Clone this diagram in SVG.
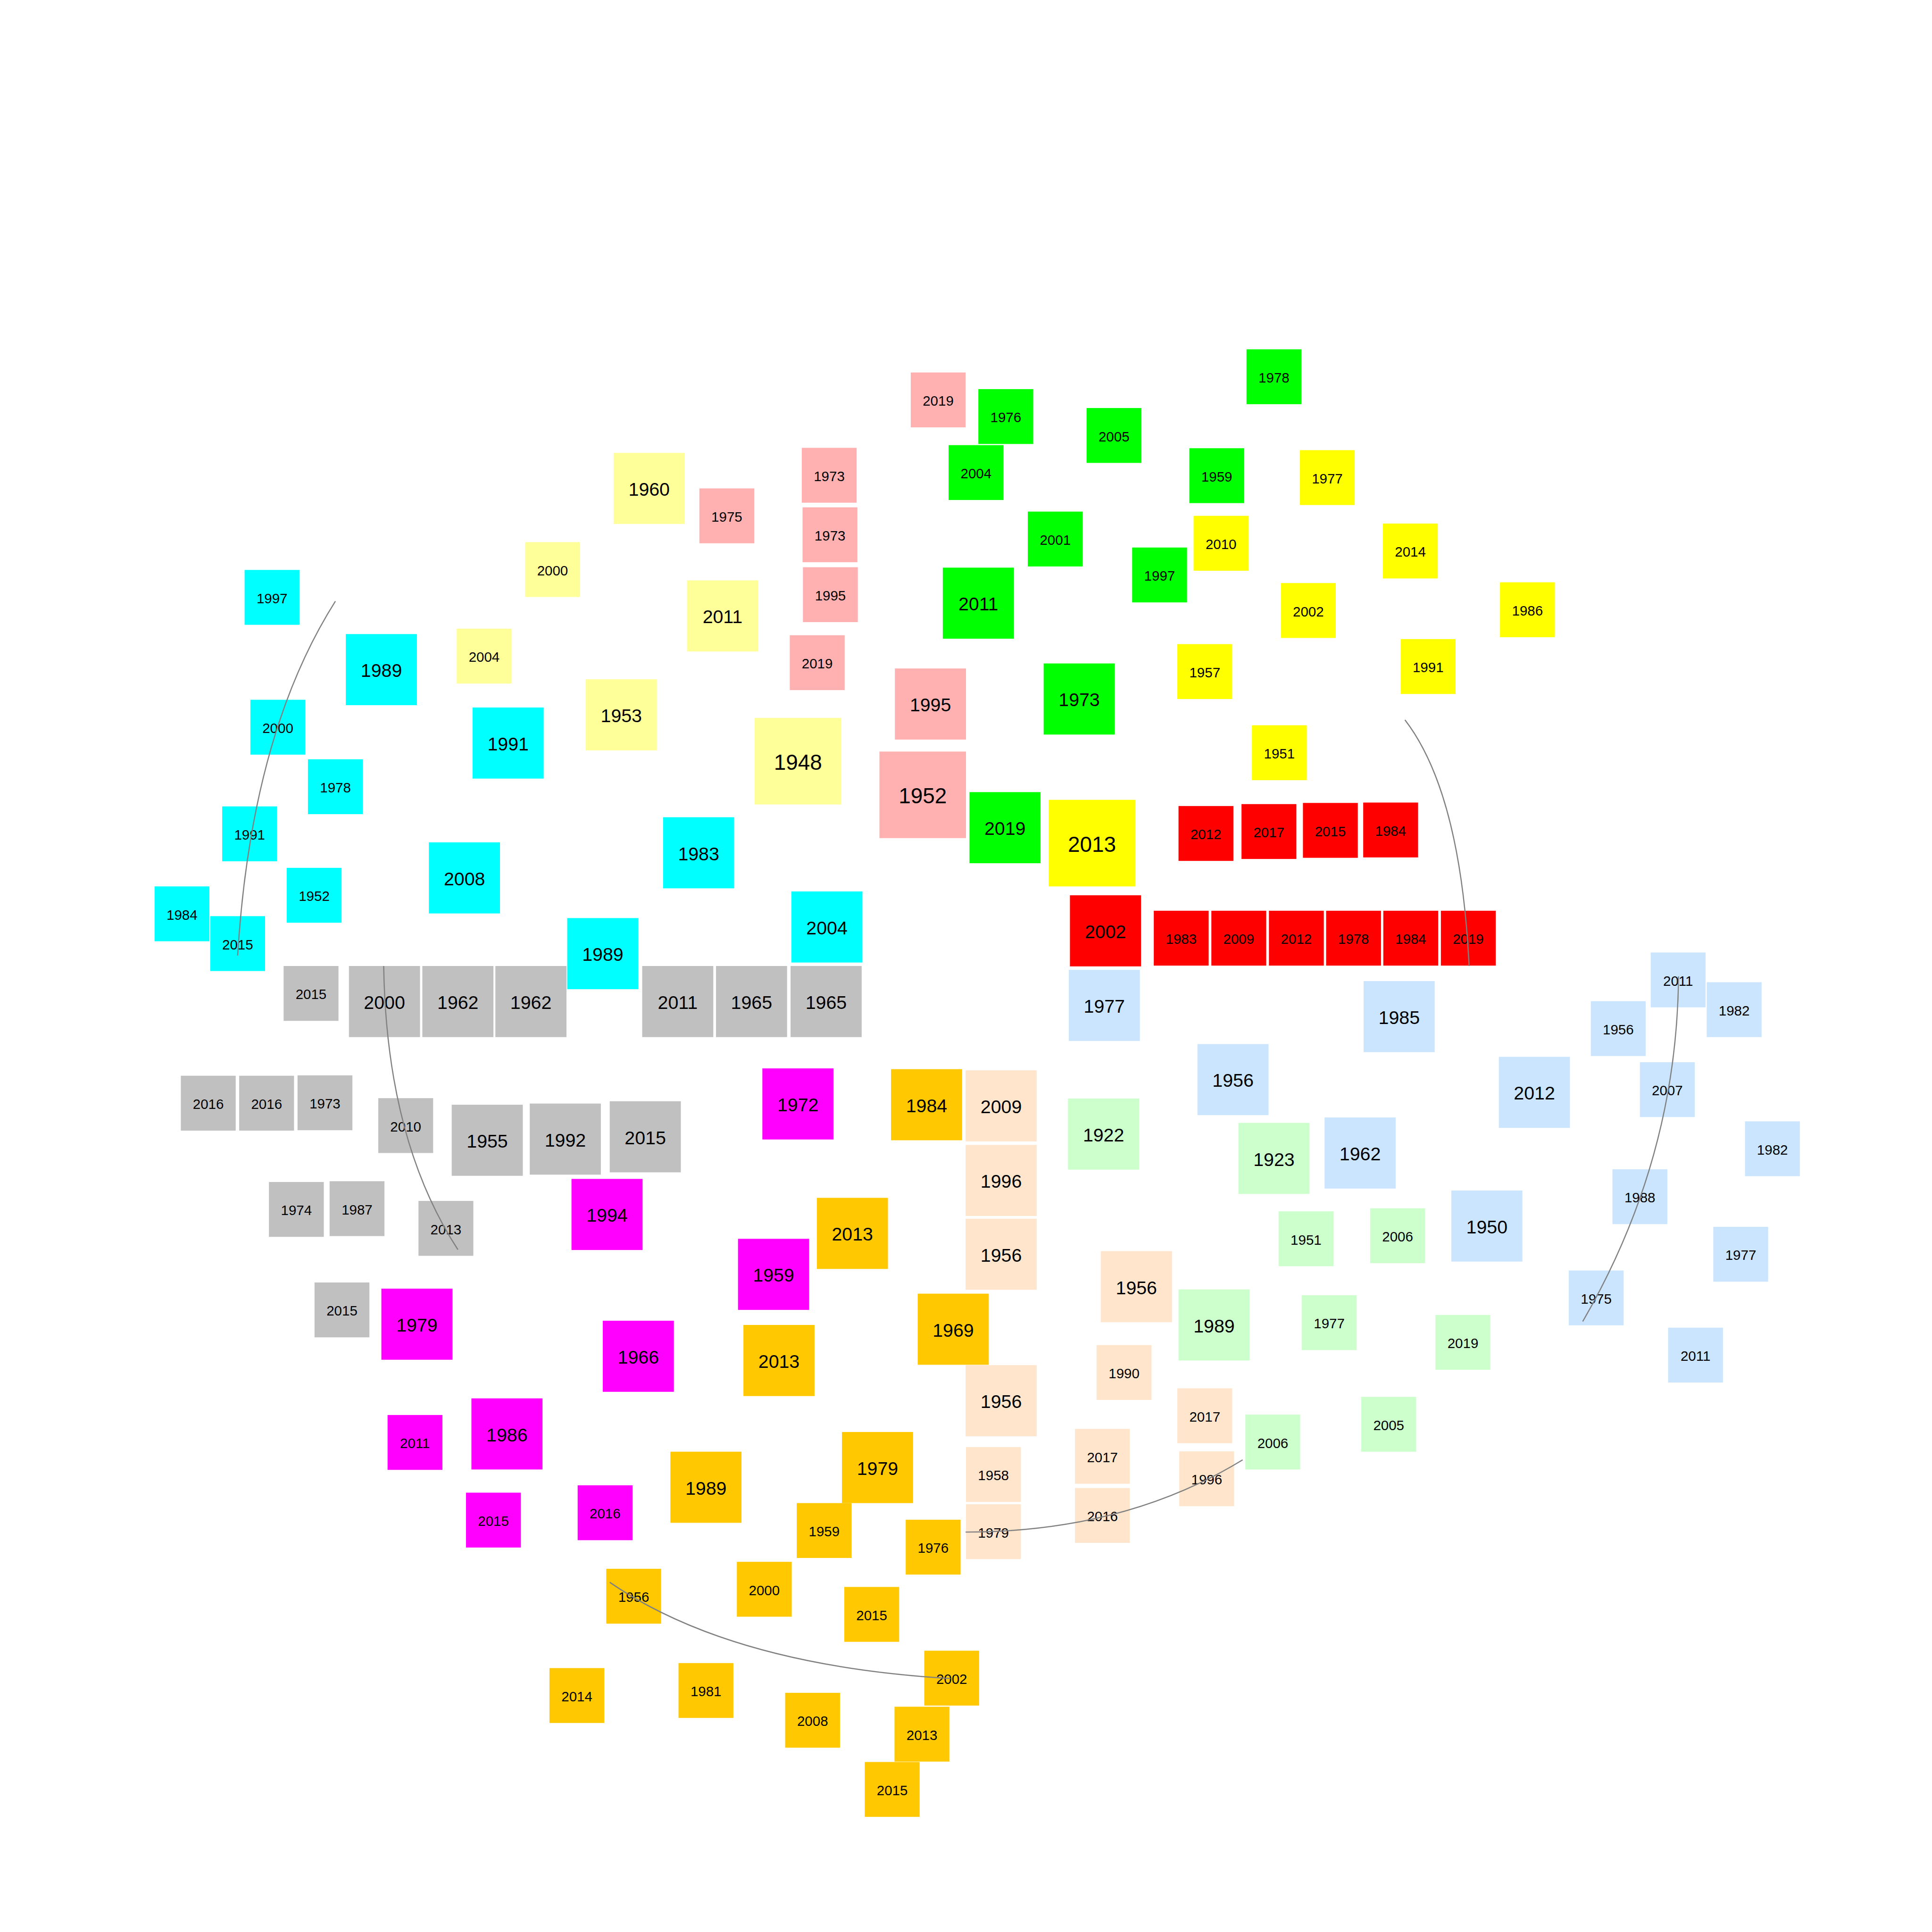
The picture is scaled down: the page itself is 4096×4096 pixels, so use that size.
<svg xmlns="http://www.w3.org/2000/svg" width="4096" height="4096" viewBox="0 0 4096 4096">
<style>
text{font-family:"Liberation Sans",Arial,sans-serif;text-anchor:middle;fill:#000}
.s text{font-size:36px}.m text{font-size:48px}.l text{font-size:56px}
.cy rect{fill:#00ffff}.ly rect{fill:#ffff99}.pk rect{fill:#ffb0b0}.gr rect{fill:#00ff00}
.ye rect{fill:#ffff00}.rd rect{fill:#ff0000}.gy rect{fill:#c0c0c0}.mg rect{fill:#ff00ff}
.or rect{fill:#ffc800}.pc rect{fill:#ffe5cc}.lb rect{fill:#cce5ff}.lg rect{fill:#ccffcc}
.edge{fill:none;stroke:#808080;stroke-width:3}
</style>
<rect width="4096" height="4096" fill="#ffffff"/>
<g transform="scale(0.8192)">
<g id="nodes">
<g id="n1" class="cy s"><rect x="633" y="1475" width="142" height="142"/><text x="704" y="1561">1997</text></g>
<g id="n2" class="cy m"><rect x="895" y="1641" width="184" height="184"/><text x="987" y="1752">1989</text></g>
<g id="n3" class="cy s"><rect x="648" y="1811" width="142" height="142"/><text x="719" y="1897">2000</text></g>
<g id="n4" class="cy m"><rect x="1223" y="1831" width="184" height="184"/><text x="1315" y="1942">1991</text></g>
<g id="n5" class="cy s"><rect x="797" y="1965" width="142" height="142"/><text x="868" y="2051">1978</text></g>
<g id="n6" class="cy s"><rect x="575" y="2087" width="142" height="142"/><text x="646" y="2173">1991</text></g>
<g id="n7" class="cy s"><rect x="742" y="2246" width="142" height="142"/><text x="813" y="2332">1952</text></g>
<g id="n8" class="cy m"><rect x="1110" y="2180" width="184" height="184"/><text x="1202" y="2291">2008</text></g>
<g id="n9" class="cy s"><rect x="400" y="2294" width="142" height="142"/><text x="471" y="2380">1984</text></g>
<g id="n10" class="cy s"><rect x="544" y="2371" width="142" height="142"/><text x="615" y="2457">2015</text></g>
<g id="n11" class="cy m"><rect x="1716" y="2115" width="184" height="184"/><text x="1808" y="2226">1983</text></g>
<g id="n12" class="cy m"><rect x="1468" y="2376" width="184" height="184"/><text x="1560" y="2487">1989</text></g>
<g id="n13" class="cy m"><rect x="2048" y="2307" width="184" height="184"/><text x="2140" y="2418">2004</text></g>
<g id="n14" class="ly s"><rect x="1182" y="1627" width="142" height="142"/><text x="1253" y="1713">2004</text></g>
<g id="n15" class="ly s"><rect x="1359" y="1403" width="142" height="142"/><text x="1430" y="1489">2000</text></g>
<g id="n16" class="ly m"><rect x="1588" y="1172" width="184" height="184"/><text x="1680" y="1283">1960</text></g>
<g id="n17" class="ly m"><rect x="1778" y="1502" width="184" height="184"/><text x="1870" y="1613">2011</text></g>
<g id="n18" class="ly m"><rect x="1516" y="1758" width="184" height="184"/><text x="1608" y="1869">1953</text></g>
<g id="n19" class="ly l"><rect x="1953" y="1858" width="224" height="224"/><text x="2065" y="1992">1948</text></g>
<g id="n20" class="pk s"><rect x="2357" y="964" width="142" height="142"/><text x="2428" y="1050">2019</text></g>
<g id="n21" class="pk s"><rect x="2075" y="1159" width="142" height="142"/><text x="2146" y="1245">1973</text></g>
<g id="n22" class="pk s"><rect x="2077" y="1313" width="142" height="142"/><text x="2148" y="1399">1973</text></g>
<g id="n23" class="pk s"><rect x="2078" y="1468" width="142" height="142"/><text x="2149" y="1554">1995</text></g>
<g id="n24" class="pk s"><rect x="2044" y="1644" width="142" height="142"/><text x="2115" y="1730">2019</text></g>
<g id="n25" class="pk s"><rect x="1810" y="1264" width="142" height="142"/><text x="1881" y="1350">1975</text></g>
<g id="n26" class="pk m"><rect x="2316" y="1730" width="184" height="184"/><text x="2408" y="1841">1995</text></g>
<g id="n27" class="pk l"><rect x="2276" y="1945" width="224" height="224"/><text x="2388" y="2079">1952</text></g>
<g id="n28" class="gr s"><rect x="2532" y="1007" width="142" height="142"/><text x="2603" y="1093">1976</text></g>
<g id="n29" class="gr s"><rect x="2455" y="1152" width="142" height="142"/><text x="2526" y="1238">2004</text></g>
<g id="n30" class="gr s"><rect x="2812" y="1056" width="142" height="142"/><text x="2883" y="1142">2005</text></g>
<g id="n31" class="gr s"><rect x="3226" y="904" width="142" height="142"/><text x="3297" y="990">1978</text></g>
<g id="n32" class="gr s"><rect x="3078" y="1160" width="142" height="142"/><text x="3149" y="1246">1959</text></g>
<g id="n33" class="gr s"><rect x="2660" y="1324" width="142" height="142"/><text x="2731" y="1410">2001</text></g>
<g id="n34" class="gr s"><rect x="2930" y="1417" width="142" height="142"/><text x="3001" y="1503">1997</text></g>
<g id="n35" class="gr m"><rect x="2440" y="1469" width="184" height="184"/><text x="2532" y="1580">2011</text></g>
<g id="n36" class="gr m"><rect x="2701" y="1717" width="184" height="184"/><text x="2793" y="1828">1973</text></g>
<g id="n37" class="gr m"><rect x="2509" y="2050" width="184" height="184"/><text x="2601" y="2161">2019</text></g>
<g id="n38" class="ye s"><rect x="3364" y="1165" width="142" height="142"/><text x="3435" y="1251">1977</text></g>
<g id="n39" class="ye s"><rect x="3089" y="1335" width="142" height="142"/><text x="3160" y="1421">2010</text></g>
<g id="n40" class="ye s"><rect x="3579" y="1355" width="142" height="142"/><text x="3650" y="1441">2014</text></g>
<g id="n41" class="ye s"><rect x="3315" y="1509" width="142" height="142"/><text x="3386" y="1595">2002</text></g>
<g id="n42" class="ye s"><rect x="3882" y="1507" width="142" height="142"/><text x="3953" y="1593">1986</text></g>
<g id="n43" class="ye s"><rect x="3047" y="1667" width="142" height="142"/><text x="3118" y="1753">1957</text></g>
<g id="n44" class="ye s"><rect x="3625" y="1654" width="142" height="142"/><text x="3696" y="1740">1991</text></g>
<g id="n45" class="ye s"><rect x="3240" y="1877" width="142" height="142"/><text x="3311" y="1963">1951</text></g>
<g id="n46" class="ye l"><rect x="2714" y="2070" width="224" height="224"/><text x="2826" y="2204">2013</text></g>
<g id="n47" class="rd s"><rect x="3050" y="2086" width="142" height="142"/><text x="3121" y="2172">2012</text></g>
<g id="n48" class="rd s"><rect x="3213" y="2081" width="142" height="142"/><text x="3284" y="2167">2017</text></g>
<g id="n49" class="rd s"><rect x="3372" y="2078" width="142" height="142"/><text x="3443" y="2164">2015</text></g>
<g id="n50" class="rd s"><rect x="3528" y="2077" width="142" height="142"/><text x="3599" y="2163">1984</text></g>
<g id="n51" class="rd m"><rect x="2769" y="2317" width="184" height="184"/><text x="2861" y="2428">2002</text></g>
<g id="n52" class="rd s"><rect x="2986" y="2357" width="142" height="142"/><text x="3057" y="2443">1983</text></g>
<g id="n53" class="rd s"><rect x="3135" y="2357" width="142" height="142"/><text x="3206" y="2443">2009</text></g>
<g id="n54" class="rd s"><rect x="3284" y="2357" width="142" height="142"/><text x="3355" y="2443">2012</text></g>
<g id="n55" class="rd s"><rect x="3432" y="2357" width="142" height="142"/><text x="3503" y="2443">1978</text></g>
<g id="n56" class="rd s"><rect x="3580" y="2357" width="142" height="142"/><text x="3651" y="2443">1984</text></g>
<g id="n57" class="rd s"><rect x="3729" y="2357" width="142" height="142"/><text x="3800" y="2443">2019</text></g>
<g id="n58" class="gy s"><rect x="734" y="2500" width="142" height="142"/><text x="805" y="2586">2015</text></g>
<g id="n59" class="gy m"><rect x="903" y="2500" width="184" height="184"/><text x="995" y="2611">2000</text></g>
<g id="n60" class="gy m"><rect x="1093" y="2500" width="184" height="184"/><text x="1185" y="2611">1962</text></g>
<g id="n61" class="gy m"><rect x="1282" y="2500" width="184" height="184"/><text x="1374" y="2611">1962</text></g>
<g id="n62" class="gy m"><rect x="1662" y="2500" width="184" height="184"/><text x="1754" y="2611">2011</text></g>
<g id="n63" class="gy m"><rect x="1853" y="2500" width="184" height="184"/><text x="1945" y="2611">1965</text></g>
<g id="n64" class="gy m"><rect x="2046" y="2500" width="184" height="184"/><text x="2138" y="2611">1965</text></g>
<g id="n65" class="gy s"><rect x="468" y="2784" width="142" height="142"/><text x="539" y="2870">2016</text></g>
<g id="n66" class="gy s"><rect x="619" y="2784" width="142" height="142"/><text x="690" y="2870">2016</text></g>
<g id="n67" class="gy s"><rect x="770" y="2783" width="142" height="142"/><text x="841" y="2869">1973</text></g>
<g id="n68" class="gy s"><rect x="979" y="2842" width="142" height="142"/><text x="1050" y="2928">2010</text></g>
<g id="n69" class="gy m"><rect x="1169" y="2859" width="184" height="184"/><text x="1261" y="2970">1955</text></g>
<g id="n70" class="gy m"><rect x="1371" y="2856" width="184" height="184"/><text x="1463" y="2967">1992</text></g>
<g id="n71" class="gy m"><rect x="1578" y="2850" width="184" height="184"/><text x="1670" y="2961">2015</text></g>
<g id="n72" class="gy s"><rect x="696" y="3059" width="142" height="142"/><text x="767" y="3145">1974</text></g>
<g id="n73" class="gy s"><rect x="853" y="3057" width="142" height="142"/><text x="924" y="3143">1987</text></g>
<g id="n74" class="gy s"><rect x="1083" y="3108" width="142" height="142"/><text x="1154" y="3194">2013</text></g>
<g id="n75" class="gy s"><rect x="814" y="3319" width="142" height="142"/><text x="885" y="3405">2015</text></g>
<g id="n76" class="mg m"><rect x="987" y="3335" width="184" height="184"/><text x="1079" y="3446">1979</text></g>
<g id="n77" class="mg m"><rect x="1973" y="2765" width="184" height="184"/><text x="2065" y="2876">1972</text></g>
<g id="n78" class="mg m"><rect x="1479" y="3051" width="184" height="184"/><text x="1571" y="3162">1994</text></g>
<g id="n79" class="mg m"><rect x="1910" y="3206" width="184" height="184"/><text x="2002" y="3317">1959</text></g>
<g id="n80" class="mg m"><rect x="1560" y="3418" width="184" height="184"/><text x="1652" y="3529">1966</text></g>
<g id="n81" class="mg s"><rect x="1003" y="3662" width="142" height="142"/><text x="1074" y="3748">2011</text></g>
<g id="n82" class="mg m"><rect x="1220" y="3619" width="184" height="184"/><text x="1312" y="3730">1986</text></g>
<g id="n83" class="mg s"><rect x="1206" y="3863" width="142" height="142"/><text x="1277" y="3949">2015</text></g>
<g id="n84" class="mg s"><rect x="1495" y="3844" width="142" height="142"/><text x="1566" y="3930">2016</text></g>
<g id="n85" class="or m"><rect x="2306" y="2767" width="184" height="184"/><text x="2398" y="2878">1984</text></g>
<g id="n86" class="or m"><rect x="2114" y="3100" width="184" height="184"/><text x="2206" y="3211">2013</text></g>
<g id="n87" class="or m"><rect x="2375" y="3348" width="184" height="184"/><text x="2467" y="3459">1969</text></g>
<g id="n88" class="or m"><rect x="1924" y="3429" width="184" height="184"/><text x="2016" y="3540">2013</text></g>
<g id="n89" class="or m"><rect x="2179" y="3706" width="184" height="184"/><text x="2271" y="3817">1979</text></g>
<g id="n90" class="or m"><rect x="1735" y="3757" width="184" height="184"/><text x="1827" y="3868">1989</text></g>
<g id="n91" class="or s"><rect x="2062" y="3890" width="142" height="142"/><text x="2133" y="3976">1959</text></g>
<g id="n92" class="or s"><rect x="2344" y="3933" width="142" height="142"/><text x="2415" y="4019">1976</text></g>
<g id="n93" class="or s"><rect x="1569" y="4060" width="142" height="142"/><text x="1640" y="4146">1956</text></g>
<g id="n94" class="or s"><rect x="1907" y="4042" width="142" height="142"/><text x="1978" y="4128">2000</text></g>
<g id="n95" class="or s"><rect x="2185" y="4107" width="142" height="142"/><text x="2256" y="4193">2015</text></g>
<g id="n96" class="or s"><rect x="2392" y="4272" width="142" height="142"/><text x="2463" y="4358">2002</text></g>
<g id="n97" class="or s"><rect x="1422" y="4317" width="142" height="142"/><text x="1493" y="4403">2014</text></g>
<g id="n98" class="or s"><rect x="1756" y="4304" width="142" height="142"/><text x="1827" y="4390">1981</text></g>
<g id="n99" class="or s"><rect x="2032" y="4381" width="142" height="142"/><text x="2103" y="4467">2008</text></g>
<g id="n100" class="or s"><rect x="2315" y="4417" width="142" height="142"/><text x="2386" y="4503">2013</text></g>
<g id="n101" class="or s"><rect x="2238" y="4560" width="142" height="142"/><text x="2309" y="4646">2015</text></g>
<g id="n102" class="pc m"><rect x="2499" y="2770" width="184" height="184"/><text x="2591" y="2881">2009</text></g>
<g id="n103" class="pc m"><rect x="2499" y="2963" width="184" height="184"/><text x="2591" y="3074">1996</text></g>
<g id="n104" class="pc m"><rect x="2499" y="3154" width="184" height="184"/><text x="2591" y="3265">1956</text></g>
<g id="n105" class="pc m"><rect x="2849" y="3238" width="184" height="184"/><text x="2941" y="3349">1956</text></g>
<g id="n106" class="pc m"><rect x="2499" y="3533" width="184" height="184"/><text x="2591" y="3644">1956</text></g>
<g id="n107" class="pc s"><rect x="2838" y="3481" width="142" height="142"/><text x="2909" y="3567">1990</text></g>
<g id="n108" class="pc s"><rect x="3047" y="3593" width="142" height="142"/><text x="3118" y="3679">2017</text></g>
<g id="n109" class="pc s"><rect x="2782" y="3698" width="142" height="142"/><text x="2853" y="3784">2017</text></g>
<g id="n110" class="pc s"><rect x="2782" y="3851" width="142" height="142"/><text x="2853" y="3937">2016</text></g>
<g id="n111" class="pc s"><rect x="3052" y="3756" width="142" height="142"/><text x="3123" y="3842">1996</text></g>
<g id="n112" class="pc s"><rect x="2500" y="3745" width="142" height="142"/><text x="2571" y="3831">1958</text></g>
<g id="n113" class="pc s"><rect x="2500" y="3893" width="142" height="142"/><text x="2571" y="3979">1979</text></g>
<g id="n114" class="lb m"><rect x="2766" y="2510" width="184" height="184"/><text x="2858" y="2621">1977</text></g>
<g id="n115" class="lb m"><rect x="3529" y="2539" width="184" height="184"/><text x="3621" y="2650">1985</text></g>
<g id="n116" class="lb m"><rect x="3099" y="2702" width="184" height="184"/><text x="3191" y="2813">1956</text></g>
<g id="n117" class="lb m"><rect x="3428" y="2892" width="184" height="184"/><text x="3520" y="3003">1962</text></g>
<g id="n118" class="lb s"><rect x="4272" y="2465" width="142" height="142"/><text x="4343" y="2551">2011</text></g>
<g id="n119" class="lb s"><rect x="4417" y="2542" width="142" height="142"/><text x="4488" y="2628">1982</text></g>
<g id="n120" class="lb s"><rect x="4117" y="2591" width="142" height="142"/><text x="4188" y="2677">1956</text></g>
<g id="n121" class="lb m"><rect x="3879" y="2735" width="184" height="184"/><text x="3971" y="2846">2012</text></g>
<g id="n122" class="lb s"><rect x="4244" y="2749" width="142" height="142"/><text x="4315" y="2835">2007</text></g>
<g id="n123" class="lb s"><rect x="4516" y="2902" width="142" height="142"/><text x="4587" y="2988">1982</text></g>
<g id="n124" class="lb s"><rect x="4173" y="3026" width="142" height="142"/><text x="4244" y="3112">1988</text></g>
<g id="n125" class="lb m"><rect x="3756" y="3081" width="184" height="184"/><text x="3848" y="3192">1950</text></g>
<g id="n126" class="lb s"><rect x="4434" y="3175" width="142" height="142"/><text x="4505" y="3261">1977</text></g>
<g id="n127" class="lb s"><rect x="4060" y="3288" width="142" height="142"/><text x="4131" y="3374">1975</text></g>
<g id="n128" class="lb s"><rect x="4317" y="3436" width="142" height="142"/><text x="4388" y="3522">2011</text></g>
<g id="n129" class="lg m"><rect x="2764" y="2843" width="184" height="184"/><text x="2856" y="2954">1922</text></g>
<g id="n130" class="lg m"><rect x="3205" y="2906" width="184" height="184"/><text x="3297" y="3017">1923</text></g>
<g id="n131" class="lg s"><rect x="3309" y="3135" width="142" height="142"/><text x="3380" y="3221">1951</text></g>
<g id="n132" class="lg s"><rect x="3546" y="3127" width="142" height="142"/><text x="3617" y="3213">2006</text></g>
<g id="n133" class="lg m"><rect x="3050" y="3337" width="184" height="184"/><text x="3142" y="3448">1989</text></g>
<g id="n134" class="lg s"><rect x="3369" y="3352" width="142" height="142"/><text x="3440" y="3438">1977</text></g>
<g id="n135" class="lg s"><rect x="3715" y="3403" width="142" height="142"/><text x="3786" y="3489">2019</text></g>
<g id="n136" class="lg s"><rect x="3223" y="3661" width="142" height="142"/><text x="3294" y="3747">2006</text></g>
<g id="n137" class="lg s"><rect x="3523" y="3615" width="142" height="142"/><text x="3594" y="3701">2005</text></g>
</g>
<g id="connectors">
<path class="edge" d="M868,1556 Q650,1900 615,2473"/>
<path class="edge" d="M993,2500 Q1000,2950 1185,3234"/>
<path class="edge" d="M3636,1863 Q3780,2050 3802,2500"/>
<path class="edge" d="M4344,2527 Q4340,3000 4096,3420"/>
<path class="edge" d="M1578,4095 Q1890,4310 2460,4344"/>
<path class="edge" d="M2499,3965 Q2910,3965 3216,3778"/>
</g>
</g>
</svg>
